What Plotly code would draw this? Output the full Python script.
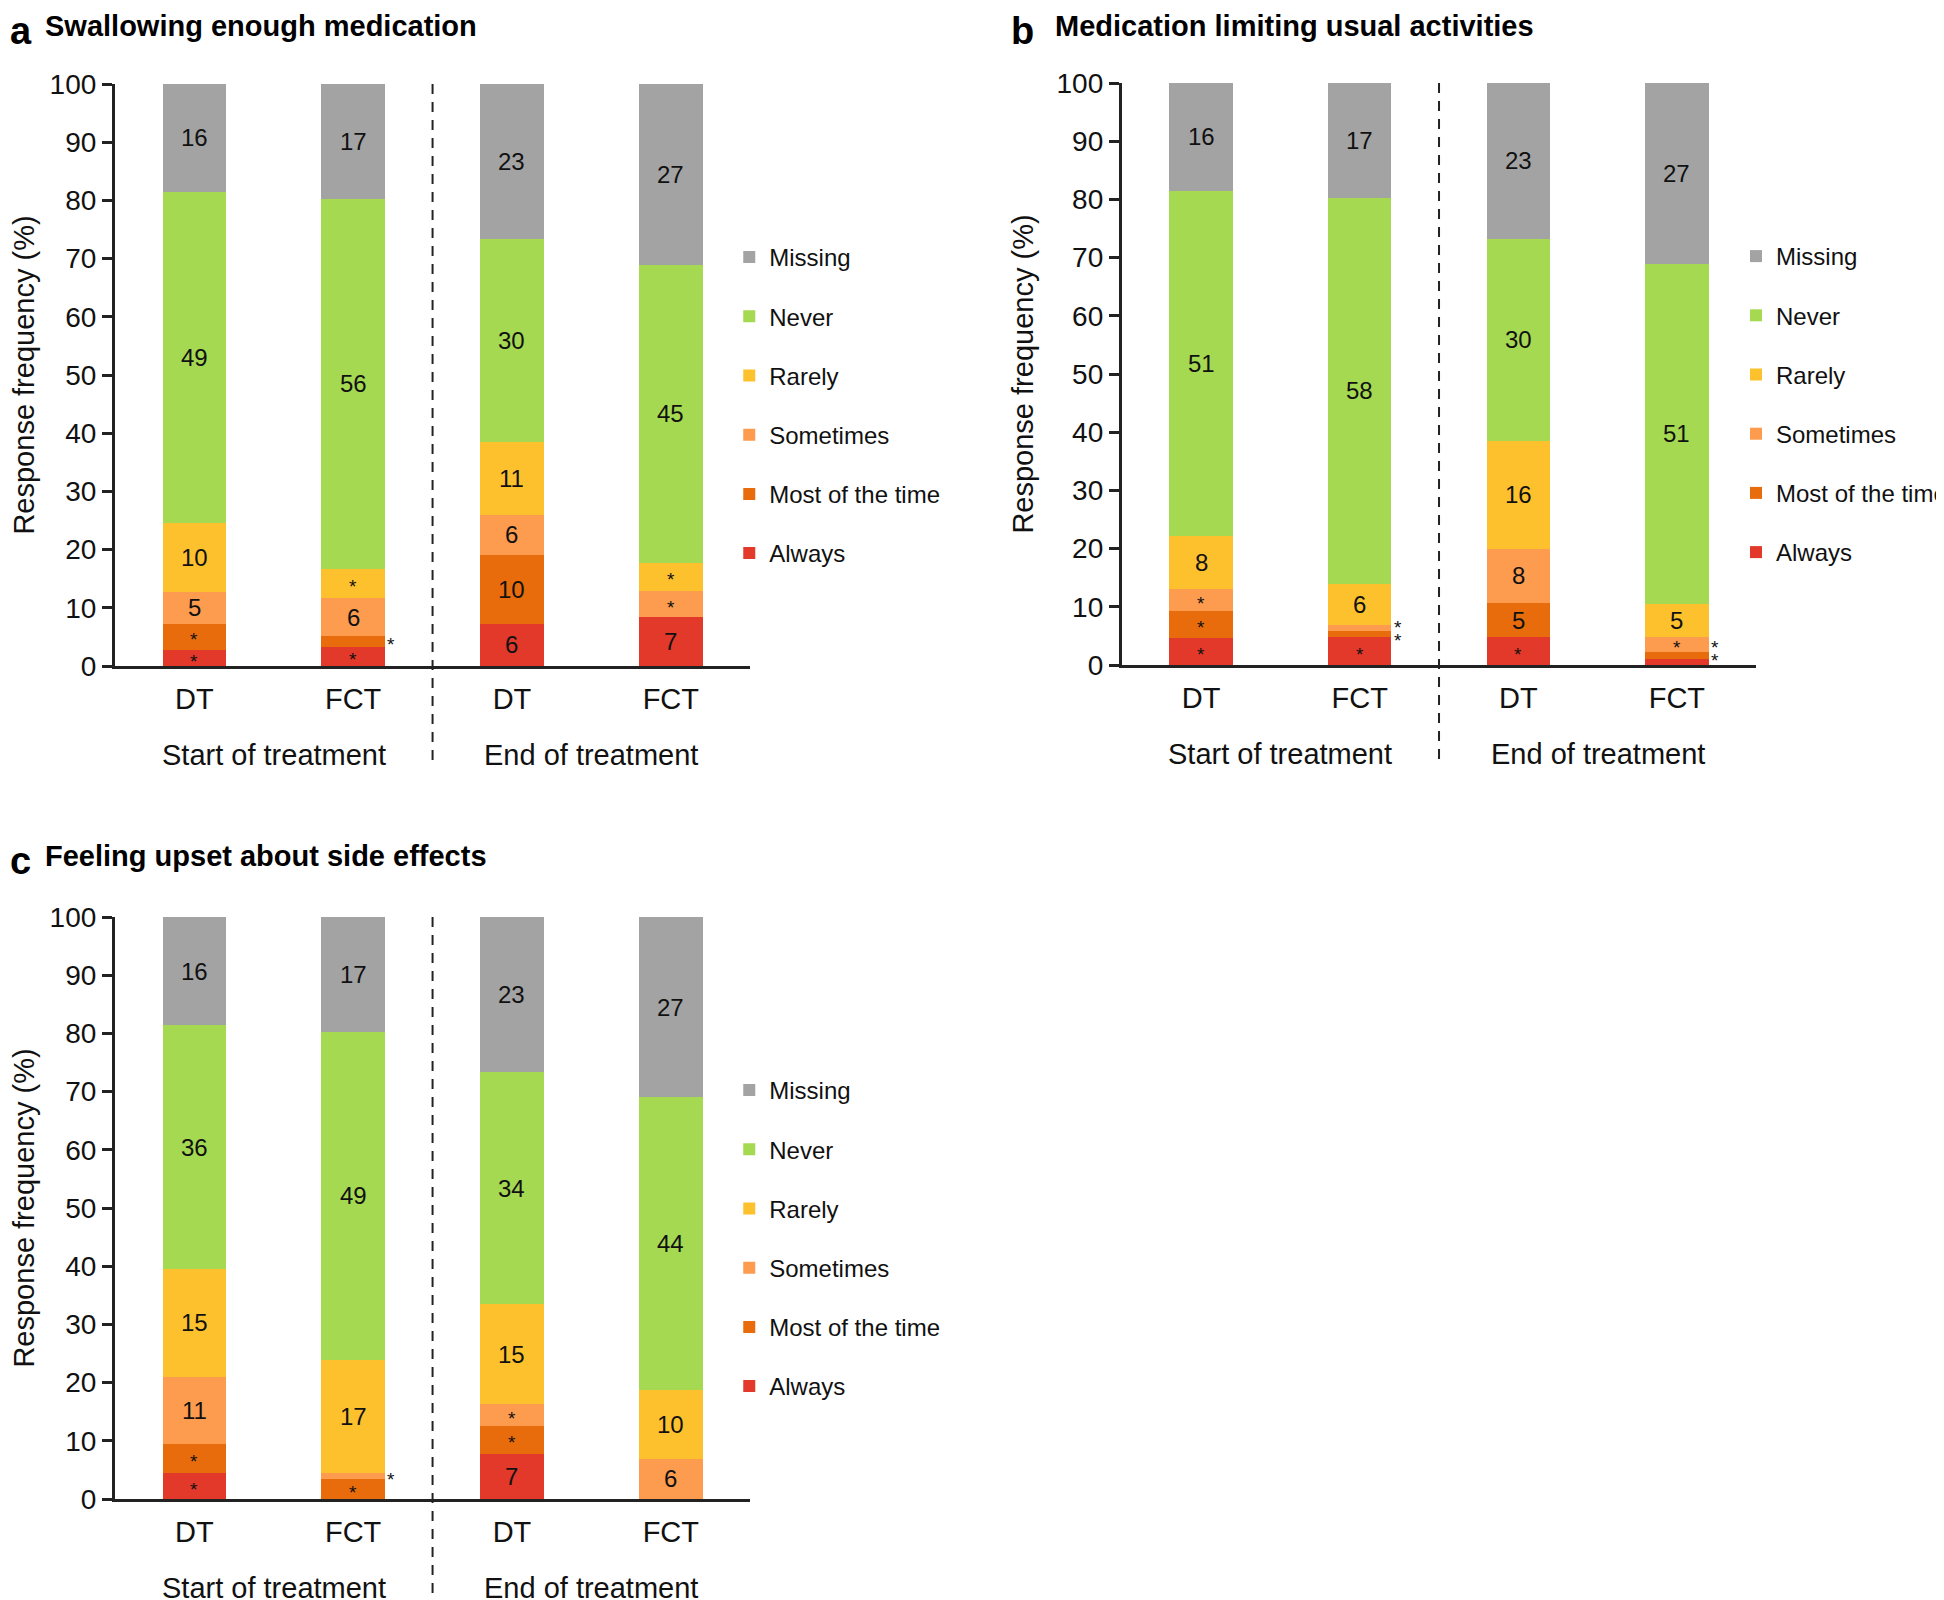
import plotly.graph_objects as go

# response categories, bottom of the stack first
responses = ["Always", "Most of the time", "Sometimes", "Rarely", "Never", "Missing"]
colors = ["#e2392b", "#e86c0c", "#fd9b4f", "#fdc12e", "#a5d952", "#a3a3a3"]

timepoints = ["Start of treatment", "Start of treatment", "End of treatment", "End of treatment"]
formulations = ["DT", "FCT", "DT", "FCT"]
groups = ["Start of treatment", "End of treatment"]

# bar heights (%); order DT start, FCT start, DT end, FCT end
swallowing_pct = {
    "Always": [2.7, 3.2, 7.3, 8.4],
    "Most of the time": [4.6, 1.9, 11.8, 0],
    "Sometimes": [5.4, 6.6, 6.9, 4.5],
    "Rarely": [11.8, 5.0, 12.5, 4.8],
    "Never": [57.0, 63.6, 34.9, 51.2],
    "Missing": [18.5, 19.7, 26.6, 31.1],
}
swallowing_lbl = {
    "Always": ["*", "*", "6", "7"],
    "Most of the time": ["*", "*", "10", ""],
    "Sometimes": ["5", "6", "6", "*"],
    "Rarely": ["10", "*", "11", "*"],
    "Never": ["49", "56", "30", "45"],
    "Missing": ["16", "17", "23", "27"],
}

limiting_pct = {
    "Always": [4.7, 4.8, 4.8, 1.0],
    "Most of the time": [4.6, 1.1, 5.8, 1.3],
    "Sometimes": [3.7, 1.0, 9.4, 2.5],
    "Rarely": [9.2, 7.1, 18.5, 5.7],
    "Never": [59.3, 66.3, 34.7, 58.4],
    "Missing": [18.5, 19.7, 26.8, 31.1],
}
limiting_lbl = {
    "Always": ["*", "*", "*", "*"],
    "Most of the time": ["*", "*", "5", "*"],
    "Sometimes": ["*", "*", "8", "*"],
    "Rarely": ["8", "6", "16", "5"],
    "Never": ["51", "58", "30", "51"],
    "Missing": ["16", "17", "23", "27"],
}

upset_pct = {
    "Always": [4.4, 0, 7.8, 0],
    "Most of the time": [5.0, 3.4, 4.7, 0],
    "Sometimes": [11.6, 1.0, 3.8, 6.9],
    "Rarely": [18.5, 19.5, 17.2, 11.8],
    "Never": [41.9, 56.4, 39.8, 50.3],
    "Missing": [18.6, 19.7, 26.7, 31.0],
}
upset_lbl = {
    "Always": ["*", "", "7", ""],
    "Most of the time": ["*", "*", "*", ""],
    "Sometimes": ["11", "*", "*", "6"],
    "Rarely": ["15", "17", "15", "10"],
    "Never": ["36", "49", "34", "44"],
    "Missing": ["16", "17", "23", "27"],
}

FONT = "Liberation Sans, Arial, Helvetica, sans-serif"
W, H = 1944, 1600
OFF = 8  # page body margin shifts the figure


def px(v):
    return (v - OFF) / W


def py(v):
    return 1 - (v - OFF) / H


keys = [t + " " + f for t, f in zip(timepoints, formulations)]

# panel boxes in page pixels: left, right, top(100%), bottom(0%)
panels = [
    dict(letter="a", title="Swallowing enough medication", pct=swallowing_pct, lbl=swallowing_lbl,
         box=(115, 751, 84, 666), letter_x=8, title_x=43, title_top=8, legend_x=730, legend_y=235, div_bottom=766),
    dict(letter="b", title="Medication limiting usual activities", pct=limiting_pct, lbl=limiting_lbl,
         box=(1123, 1758, 83, 665), letter_x=1010, title_x=1054, title_top=8, legend_x=1738, legend_y=234, div_bottom=766),
    dict(letter="c", title="Feeling upset about side effects", pct=upset_pct, lbl=upset_lbl,
         box=(115, 751, 917, 1499), letter_x=8, title_x=43, title_top=838, legend_x=730, legend_y=1068, div_bottom=1608),
]

fig = go.Figure()
annotations = []
shapes = []

for i, p in enumerate(panels):
    n = "" if i == 0 else str(i + 1)
    xa, ya = "x" + n, "y" + n
    leg = "legend" + n
    left, right, top, bottom = p["box"]

    for r, (resp, col) in enumerate(zip(responses, colors)):
        fig.add_trace(go.Bar(
            x=keys, y=p["pct"][resp], name=resp, width=0.4,
            marker=dict(color=col, line=dict(width=0)),
            xaxis=xa, yaxis=ya, legend=leg, legendgroup=p["letter"] + resp,
            legendrank=(len(responses) - r) * 10, hoverinfo="skip",
        ))

    # segment labels at the middle of each segment, small ones go beside the bar
    for j, k in enumerate(keys):
        base = 0
        outside = []
        for resp in responses:
            h = p["pct"][resp][j]
            txt = p["lbl"][resp][j]
            mid = base + h / 2
            base += h
            if not txt:
                continue
            if txt == "*" and h < 2.2:
                outside.append(mid)
                continue
            star = txt == "*"
            annotations.append(dict(
                x=k, y=mid, xref=xa, yref=ya, text=txt, showarrow=False,
                font=dict(family=FONT, size=19 if star else 24, color="#111"),
                yshift=-3 if star else 0,
            ))
        if outside:
            m = sum(outside) / len(outside)
            sep = 2.2
            ys = [m + (q - (len(outside) - 1) / 2) * sep for q in range(len(outside))]
            if ys[0] < 1.3:
                ys = [v + 1.3 - ys[0] for v in ys]
            for v in ys:
                annotations.append(dict(
                    x=k, y=v, xref=xa, yref=ya, text="*", showarrow=False, xshift=38, yshift=-3,
                    font=dict(family=FONT, size=19, color="#111"),
                ))

    # group labels under the formulation ticks
    for g, frac in zip(groups, [0.25, 0.75]):
        annotations.append(dict(
            x=px(left + (right - left) * frac), xref="paper", y=py(bottom + 89), yref="paper", text=g,
            showarrow=False, xanchor="center", yanchor="middle",
            font=dict(family=FONT, size=29, color="#111"),
        ))

    # panel letter and title
    annotations.append(dict(
        x=px(p["letter_x"]), y=py(p["title_top"]), xref="paper", yref="paper",
        text="<b>" + p["letter"] + "</b>", showarrow=False, xanchor="left", yanchor="top",
        font=dict(family=FONT, size=38, color="#000"),
    ))
    annotations.append(dict(
        x=px(p["title_x"]), y=py(p["title_top"]), xref="paper", yref="paper",
        text="<b>" + p["title"] + "</b>", showarrow=False, xanchor="left", yanchor="top",
        font=dict(family=FONT, size=29, color="#000"),
    ))

    # dashed divider between start and end of treatment
    shapes.append(dict(
        type="line", xref="paper", x0=px((left + right) / 2), x1=px((left + right) / 2), yref="paper",
        y0=py(top), y1=py(p["div_bottom"]),
        line=dict(color="#222", width=2, dash="10px,8px"),
    ))

    fig.layout["xaxis" + n] = dict(
        domain=[px(left), px(right)], anchor=ya, type="category", range=[-0.5, 3.5],
        tickvals=keys, ticktext=formulations, ticks="", showline=True, linewidth=3,
        linecolor="#222", showgrid=False, zeroline=False, ticklabelstandoff=5,
        tickfont=dict(family=FONT, size=29, color="#111"), automargin=False,
    )
    fig.layout["yaxis" + n] = dict(
        domain=[py(bottom), py(top)], anchor=xa, range=[0, 100],
        tickvals=list(range(0, 101, 10)), ticks="outside", ticklen=10, tickwidth=3,
        tickcolor="#222", showline=True, linewidth=3, linecolor="#222",
        showgrid=False, zeroline=False, automargin=False,
        tickfont=dict(family=FONT, size=28, color="#111"),
        title=dict(text="Response frequency (%)", font=dict(family=FONT, size=29, color="#111"), standoff=15),
    )
    fig.layout[leg] = dict(
        x=px(p["legend_x"]), y=py(p["legend_y"]), xanchor="left", yanchor="top",
        traceorder="grouped", tracegroupgap=25, bgcolor="rgba(0,0,0,0)",
        font=dict(family=FONT, size=24, color="#111"),
    )

fig.update_layout(
    width=W, height=H, barmode="stack", showlegend=True,
    margin=dict(l=0, r=0, t=0, b=0),
    paper_bgcolor="white", plot_bgcolor="white",
    annotations=annotations, shapes=shapes,
)

fig.write_html("out.html")
